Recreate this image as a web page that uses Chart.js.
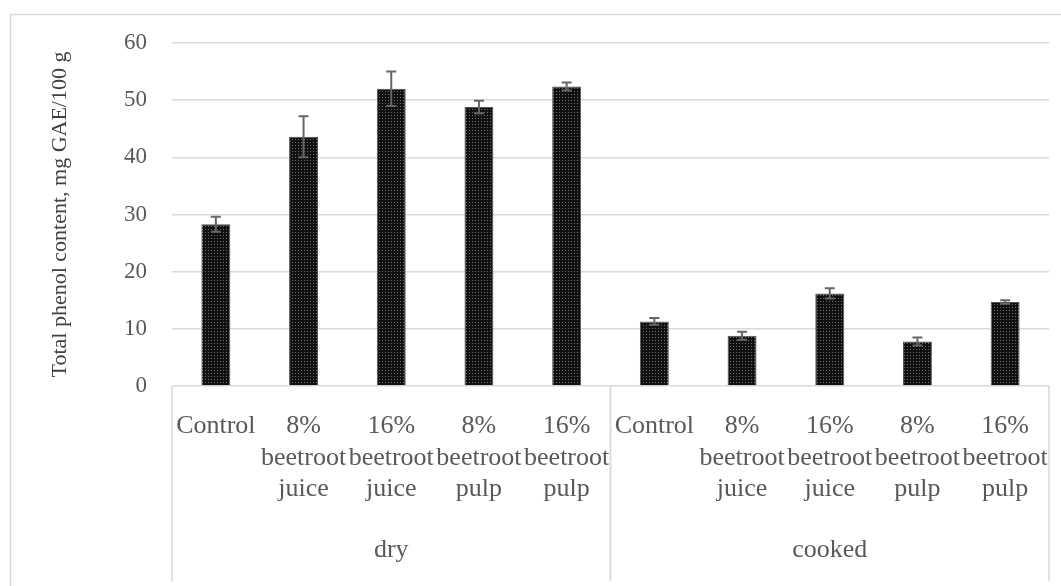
<!DOCTYPE html>
<html>
<head>
<meta charset="utf-8">
<script src="https://cdn.jsdelivr.net/npm/chart.js@4"></script>
<style>
    body { margin: 0; background: #ffffff; }
    canvas { display: block; }
</style>
</head>
<body>
<canvas id="phenolChart" width="1061" height="586"></canvas>
<script>
/* ========================================
   Total phenol content - dry vs cooked
   ======================================== */

const categories = [
    ['Control'],
    ['8%', 'beetroot', 'juice'],
    ['16%', 'beetroot', 'juice'],
    ['8%', 'beetroot', 'pulp'],
    ['16%', 'beetroot', 'pulp'],
    ['Control'],
    ['8%', 'beetroot', 'juice'],
    ['16%', 'beetroot', 'juice'],
    ['8%', 'beetroot', 'pulp'],
    ['16%', 'beetroot', 'pulp']
];
const groups = ['dry', 'cooked'];
const groupSize = [5, 5];
const phenolValues = [28.3, 43.6, 52.0, 48.8, 52.4, 11.3, 8.8, 16.2, 7.8, 14.7];
const phenolErrors = [1.3, 3.6, 3.0, 1.1, 0.7, 0.6, 0.7, 0.9, 0.7, 0.3];
const yTicks = [0, 10, 20, 30, 40, 50, 60];

const lineGray = '#d9d9d9';
const textGray = '#595959';
const serif = "'Liberation Serif', 'Times New Roman', serif";

function makeDotPattern() {
    const c = document.createElement('canvas');
    c.width = 3;
    c.height = 3;
    const g = c.getContext('2d');
    g.fillStyle = '#111111';
    g.fillRect(0, 0, 3, 3);
    g.fillStyle = '#6e6e6e';
    g.fillRect(1, 1, 1, 1);
    return g.createPattern(c, 'repeat');
}

const framePlugin = {
    id: 'frame',
    beforeDraw(chart) {
        const ctx = chart.ctx;
        ctx.save();
        ctx.fillStyle = '#ffffff';
        ctx.fillRect(0, 0, chart.width, chart.height);
        ctx.strokeStyle = lineGray;
        ctx.lineWidth = 1.5;
        ctx.beginPath();
        ctx.moveTo(10.5, chart.height);
        ctx.lineTo(10.5, 14.5);
        ctx.lineTo(chart.width, 14.5);
        ctx.stroke();
        ctx.restore();
    },
    afterDatasetsDraw(chart) {
        // error bars
        const ctx = chart.ctx;
        const y = chart.scales.y;
        const meta = chart.getDatasetMeta(0);
        ctx.save();
        ctx.strokeStyle = '#666666';
        ctx.lineWidth = 2;
        meta.data.forEach((bar, i) => {
            const top = y.getPixelForValue(phenolValues[i] + phenolErrors[i]);
            const bot = y.getPixelForValue(phenolValues[i] - phenolErrors[i]);
            ctx.beginPath();
            ctx.moveTo(bar.x, top);
            ctx.lineTo(bar.x, bot);
            ctx.moveTo(bar.x - 5, top);
            ctx.lineTo(bar.x + 5, top);
            ctx.moveTo(bar.x - 5, bot);
            ctx.lineTo(bar.x + 5, bot);
            ctx.stroke();
        });
        ctx.restore();
    },
    afterDraw(chart) {
        // group dividers and group labels under the category labels
        const ctx = chart.ctx;
        const x = chart.scales.x;
        const area = chart.chartArea;
        const half = (x.getPixelForValue(1) - x.getPixelForValue(0)) / 2;
        ctx.save();
        ctx.strokeStyle = lineGray;
        ctx.lineWidth = 1.5;
        ctx.fillStyle = textGray;
        ctx.font = '26px ' + serif;
        ctx.textAlign = 'center';
        ctx.textBaseline = 'middle';
        let start = 0;
        groups.forEach((name, g) => {
            const left = x.getPixelForValue(start) - half;
            const right = x.getPixelForValue(start + groupSize[g] - 1) + half;
            ctx.beginPath();
            ctx.moveTo(left, area.bottom);
            ctx.lineTo(left, 581);
            ctx.moveTo(right, area.bottom);
            ctx.lineTo(right, 581);
            ctx.stroke();
            ctx.fillText(name, (left + right) / 2, 550);
            start += groupSize[g];
        });
        ctx.restore();
    }
};

const ctx = document.getElementById('phenolChart');

new Chart(ctx, {
    type: 'bar',
    data: {
        labels: categories,
        datasets: [{
            data: phenolValues,
            backgroundColor: makeDotPattern(),
            borderColor: '#555555',
            borderWidth: 1,
            categoryPercentage: 1,
            barPercentage: 0.33
        }]
    },
    options: {
        responsive: false,
        devicePixelRatio: 1,
        animation: false,
        layout: {
            padding: { top: 43, right: 12, bottom: 0, left: 0 }
        },
        plugins: {
            legend: { display: false },
            tooltip: { enabled: false }
        },
        scales: {
            x: {
                grid: { display: false, drawTicks: false },
                border: { display: false },
                ticks: {
                    autoSkip: false,
                    maxRotation: 0,
                    minRotation: 0,
                    padding: 25,
                    color: textGray,
                    font: { family: serif, size: 26, lineHeight: 1.2 }
                },
                afterFit(scale) {
                    scale.height = 200;
                    // labels may overhang the plot a little, as in the original
                    scale.paddingLeft = 0;
                    scale.paddingRight = 0;
                }
            },
            y: {
                min: 0,
                max: 60,
                afterBuildTicks(scale) {
                    scale.ticks = yTicks.map(v => ({ value: v }));
                },
                grid: {
                    color: lineGray,
                    lineWidth: 1.5,
                    drawTicks: false
                },
                border: { display: false },
                ticks: {
                    padding: 25,
                    color: textGray,
                    font: { family: serif, size: 23 }
                },
                title: {
                    display: true,
                    text: 'Total phenol content, mg GAE/100 g',
                    color: '#404040',
                    font: { family: serif, size: 22 },
                    padding: { top: 47, bottom: 0 }
                },
                afterFit(scale) {
                    scale.width = 172;
                }
            }
        }
    },
    plugins: [framePlugin]
});
</script>
</body>
</html>
